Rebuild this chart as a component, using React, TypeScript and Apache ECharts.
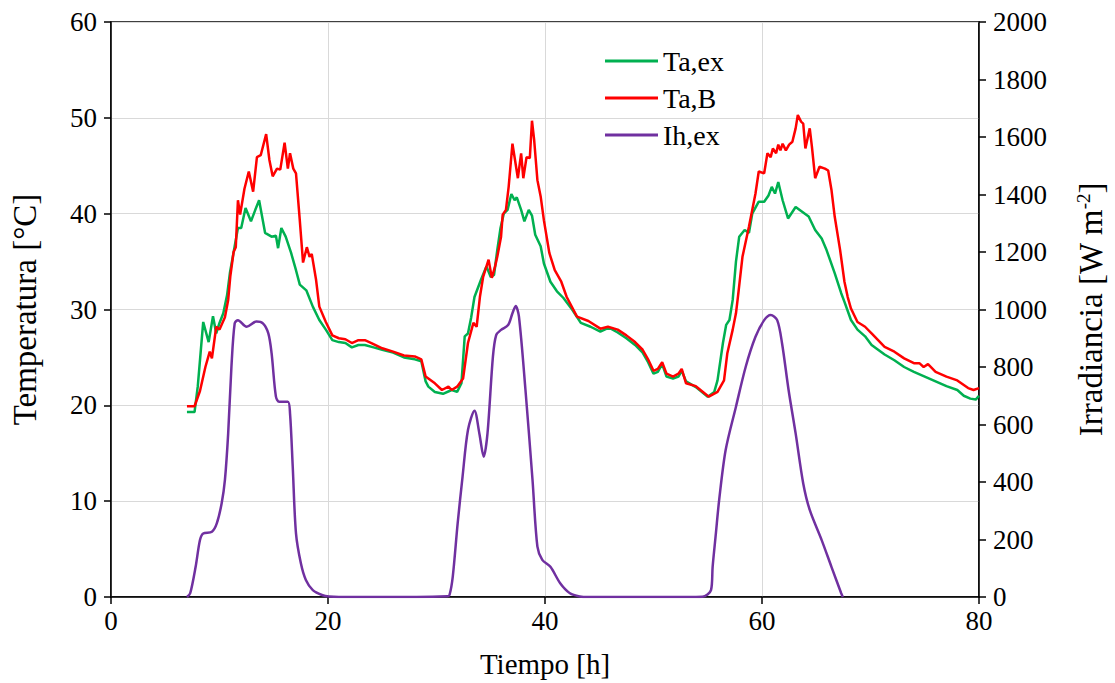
import React, { useEffect, useRef } from "react";
import * as echarts from "echarts";

const xTicks = { min: 0, max: 80, interval: 20 };

const taEx: [number, number][] = [
  [7.0, 19.3], [7.7, 19.3], [8.0, 22.0], [8.5, 28.7], [9.0, 26.6], [9.4, 29.3], [9.7, 27.5], [10.0, 28.6],
  [10.35, 29.6], [10.7, 31.5], [10.97, 33.9], [11.4, 36.6], [11.7, 38.5], [12.0, 38.5], [12.4, 40.6],
  [12.9, 39.2], [13.3, 40.4], [13.65, 41.4], [14.2, 38.0], [14.8, 37.6], [15.2, 37.7], [15.4, 36.4],
  [15.7, 38.5], [16.1, 37.6], [16.6, 35.9], [17.05, 34.1], [17.4, 32.6], [18.0, 32.0], [18.6, 30.3],
  [19.2, 28.9], [19.8, 27.9], [20.4, 26.8], [21.0, 26.6], [21.6, 26.5], [22.2, 26.05], [22.8, 26.3],
  [23.4, 26.3], [24.2, 26.05], [25.0, 25.8], [26.0, 25.5], [27.0, 25.0], [28.0, 24.8], [28.6, 24.6],
  [29.0, 22.5], [29.25, 21.95], [29.85, 21.4], [30.6, 21.2], [31.4, 21.6], [31.9, 21.4], [32.3, 22.3],
  [32.6, 27.2], [32.9, 27.5], [33.2, 29.2], [33.5, 31.3], [34.1, 33.1], [34.6, 34.5], [35.0, 33.4],
  [35.3, 33.6], [35.6, 36.2], [35.9, 38.5], [36.2, 40.0], [36.55, 40.4], [36.9, 42.05], [37.2, 41.4],
  [37.4, 41.7], [37.8, 40.4], [38.1, 39.2], [38.5, 40.4], [38.8, 39.8], [39.1, 37.8], [39.6, 36.6],
  [39.9, 34.8], [40.5, 32.9], [41.1, 31.9], [41.7, 31.2], [42.5, 30.0], [43.3, 28.6], [44.2, 28.2],
  [45.1, 27.7], [45.9, 28.1], [46.7, 27.6], [47.5, 27.0], [48.3, 26.3], [49.0, 25.5], [49.5, 24.5],
  [50.0, 23.3], [50.4, 23.5], [50.8, 24.3], [51.2, 23.0], [51.8, 22.8], [52.3, 23.0], [52.6, 23.6],
  [53.0, 22.5], [53.9, 21.9], [55.0, 20.9], [55.6, 21.4], [55.9, 22.6], [56.4, 26.5], [56.7, 28.4],
  [57.0, 28.9], [57.3, 31.0], [57.6, 35.0], [57.9, 37.6], [58.4, 38.3], [58.8, 38.0], [59.1, 40.0],
  [59.7, 41.25], [60.2, 41.25], [60.6, 41.9], [60.9, 42.8], [61.2, 42.1], [61.5, 43.3], [61.9, 41.4],
  [62.4, 39.5], [63.1, 40.7], [63.7, 40.2], [64.3, 39.7], [64.9, 38.3], [65.5, 37.4], [65.95, 36.2],
  [66.7, 33.8], [67.3, 31.7], [67.6, 30.8], [68.2, 28.9], [68.8, 27.9], [69.5, 27.2], [70.1, 26.3],
  [70.7, 25.8], [71.3, 25.3], [72.2, 24.7], [73.1, 24.0], [74.0, 23.5], [75.0, 23.0], [76.0, 22.5],
  [77.0, 22.0], [78.0, 21.6], [78.6, 21.0], [79.2, 20.7], [79.7, 20.6], [80.0, 21.0],
];

const taB: [number, number][] = [
  [7.0, 19.9], [7.7, 19.9], [8.2, 21.5], [8.7, 24.0], [9.1, 25.6], [9.3, 24.9], [9.7, 28.2], [10.0, 27.9],
  [10.5, 29.2], [10.8, 31.0], [11.0, 33.5], [11.3, 36.0], [11.5, 36.5], [11.7, 41.4], [11.9, 39.9],
  [12.3, 42.6], [12.7, 44.4], [13.1, 42.3], [13.45, 45.9], [13.8, 46.1], [14.3, 48.3], [14.6, 45.6],
  [14.9, 43.9], [15.3, 44.7], [15.6, 44.6], [16.0, 47.4], [16.3, 44.7], [16.5, 46.3], [16.8, 44.7],
  [17.05, 44.2], [17.4, 39.3], [17.7, 34.9], [18.05, 36.5], [18.3, 35.5], [18.5, 35.8], [18.9, 33.1],
  [19.2, 30.3], [19.8, 28.7], [20.4, 27.3], [21.0, 27.0], [21.6, 26.9], [22.2, 26.5], [22.8, 26.8],
  [23.4, 26.8], [24.0, 26.5], [25.0, 25.95], [26.0, 25.6], [27.0, 25.2], [28.0, 25.1], [28.6, 24.8],
  [29.0, 23.0], [29.25, 22.8], [29.85, 22.3], [30.5, 21.6], [31.1, 21.95], [31.4, 21.6], [31.9, 21.95],
  [32.45, 22.8], [32.9, 26.5], [33.4, 28.6], [33.7, 28.2], [34.0, 31.3], [34.3, 33.4], [34.8, 35.2],
  [35.1, 33.3], [35.4, 34.5], [35.6, 35.5], [35.95, 37.6], [36.1, 39.9], [36.4, 40.4], [36.65, 42.8],
  [37.0, 47.3], [37.5, 43.7], [37.8, 46.3], [38.0, 43.7], [38.3, 45.9], [38.6, 45.8], [38.8, 49.7],
  [39.0, 47.7], [39.3, 43.5], [39.6, 41.8], [39.9, 39.3], [40.4, 35.9], [40.9, 34.1], [41.5, 32.9],
  [42.0, 31.3], [42.95, 29.25], [44.0, 28.8], [45.1, 28.0], [45.8, 28.2], [46.7, 27.9], [47.5, 27.3],
  [48.3, 26.6], [49.0, 25.8], [49.5, 24.8], [50.0, 23.6], [50.4, 23.8], [50.8, 24.5], [51.2, 23.3],
  [51.8, 23.0], [52.3, 23.3], [52.6, 23.8], [53.0, 22.3], [53.9, 22.0], [55.1, 20.9], [55.9, 21.4],
  [56.5, 22.6], [56.8, 25.4], [57.3, 27.9], [57.6, 29.6], [57.8, 31.5], [58.2, 35.5], [58.8, 38.65],
  [59.4, 42.1], [59.7, 44.4], [60.2, 44.2], [60.5, 46.3], [60.8, 45.9], [61.0, 46.8], [61.3, 46.3],
  [61.5, 47.2], [61.7, 46.6], [61.9, 47.3], [62.2, 46.6], [62.5, 47.2], [62.8, 47.5], [63.1, 48.9],
  [63.3, 50.3], [63.6, 49.6], [63.8, 49.4], [64.0, 46.8], [64.4, 48.9], [64.6, 47.0], [64.9, 43.7],
  [65.3, 44.9], [65.8, 44.7], [66.1, 44.5], [66.4, 42.5], [66.7, 39.7], [67.2, 36.2], [67.6, 32.9],
  [67.9, 31.3], [68.2, 30.1], [68.8, 28.7], [69.5, 28.2], [70.1, 27.5], [70.7, 26.8], [71.3, 26.1],
  [72.2, 25.6], [73.1, 24.9], [74.0, 24.4], [74.5, 24.4], [74.9, 24.0], [75.3, 24.3], [76.0, 23.5],
  [77.0, 23.0], [78.0, 22.6], [79.0, 21.8], [79.5, 21.6], [80.0, 21.8],
];

const ihEx: [number, number][] = [
  [7.0, 0], [7.3, 13], [7.8, 105], [8.2, 198], [8.5, 221], [9.3, 227], [9.75, 256], [10.2, 326],
  [10.5, 407], [10.8, 569], [11.1, 801], [11.4, 952], [11.7, 963], [12.5, 940], [13.4, 958], [14.0, 952],
  [14.5, 917], [14.8, 848], [15.2, 697], [15.5, 679], [16.3, 679], [16.5, 639], [16.75, 453], [17.05, 221],
  [17.5, 117], [17.96, 59], [18.6, 24], [19.5, 6], [20.1, 2], [22.0, 0], [25.0, 0], [31.0, 3], [31.2, 7],
  [31.5, 71], [31.95, 256], [32.4, 418], [32.9, 581], [33.5, 648], [33.95, 569], [34.35, 488], [34.7, 569],
  [35.2, 836], [35.5, 911], [35.95, 929], [36.6, 946], [37.0, 987], [37.3, 1012], [37.6, 975], [38.2, 720],
  [38.85, 407], [39.3, 175], [39.75, 129], [40.5, 105], [41.4, 48], [42.3, 13], [43.2, 2], [44.0, 0],
  [53.0, 0], [54.5, 1], [55.3, 24], [55.45, 105], [55.75, 221], [56.05, 337], [56.65, 511], [57.6, 662],
  [58.5, 801], [59.4, 905], [60.2, 963], [60.8, 981], [61.4, 963], [61.85, 882], [62.45, 720], [63.1, 569],
  [63.8, 395], [64.4, 303], [65.5, 198], [66.4, 105], [67.3, 13], [67.45, 0],
];

const seriesNames = ["Ta,ex", "Ta,B", "Ih,ex"];
const seriesColors = ["#00B050", "#FF0000", "#7030A0"];

const FONT = "'Liberation Serif', 'DejaVu Serif', 'Times New Roman', serif";

export default function App() {
  const ref = useRef<HTMLDivElement>(null);
  useEffect(() => {
    if (!ref.current) return;
    document.body.style.margin = "0";
    const chart = echarts.init(ref.current, null, { renderer: "svg" });
    const axisLabel = { color: "#000", fontFamily: FONT, fontSize: 27, formatter: (v: number) => String(v) };
    const nameStyle = { color: "#000", fontFamily: FONT, fontSize: 29 };
    const rotNameStyle = { color: "#000", fontFamily: FONT, fontSize: 33 };
    chart.setOption({
      animation: false,
      backgroundColor: "#fff",
      textStyle: { fontFamily: FONT },
      grid: { left: 108, right: 124, top: 22, bottom: 86, show: true, borderColor: "#000", borderWidth: 1.5 },
      legend: {
        orient: "vertical",
        left: 600,
        top: 42,
        itemWidth: 53,
        itemHeight: 3,
        itemGap: 9,
        textStyle: { color: "#000", fontFamily: FONT, fontSize: 28 },
        data: seriesNames.map((n, i) => ({ name: n, icon: "rect", itemStyle: { color: seriesColors[i] } })),
      },
      xAxis: {
        type: "value",
        min: xTicks.min,
        max: xTicks.max,
        interval: xTicks.interval,
        name: "Tiempo [h]",
        nameLocation: "middle",
        nameGap: 52,
        nameTextStyle: nameStyle,
        axisLine: { show: true, lineStyle: { color: "#000", width: 1.5 } },
        axisTick: { show: true, inside: false, length: 7, lineStyle: { color: "#000", width: 1.5 } },
        axisLabel: { ...axisLabel, margin: 10 },
        splitLine: { show: true, lineStyle: { color: "#d9d9d9", width: 1 } },
      },
      yAxis: [
        {
          type: "value",
          min: 0,
          max: 60,
          interval: 10,
          position: "left",
          name: "Temperatura [°C]",
          nameLocation: "middle",
          nameGap: 70,
          nameTextStyle: rotNameStyle,
          axisLine: { show: true, lineStyle: { color: "#000", width: 1.5 } },
          axisTick: { show: true, length: 7, lineStyle: { color: "#000", width: 1.5 } },
          axisLabel: { ...axisLabel, margin: 14 },
          splitLine: { show: true, lineStyle: { color: "#d9d9d9", width: 1 } },
        },
        {
          type: "value",
          min: 0,
          max: 2000,
          interval: 200,
          position: "right",
          name: "Irradiancia [W m{sup|-2}]",
          nameLocation: "middle",
          nameGap: 95,
          nameRotate: 90,
          nameTextStyle: {
            ...rotNameStyle,
            rich: { sup: { fontFamily: FONT, fontSize: 19, color: "#000", verticalAlign: "top", padding: [0, 0, 12, 0] } },
          },
          axisLine: { show: true, lineStyle: { color: "#000", width: 1.5 } },
          axisTick: { show: true, length: 7, lineStyle: { color: "#000", width: 1.5 } },
          axisLabel: { ...axisLabel, margin: 14 },
          splitLine: { show: false },
        },
      ],
      series: [
        {
          name: seriesNames[0],
          type: "line",
          yAxisIndex: 0,
          data: taEx,
          symbol: "none",
          lineStyle: { color: seriesColors[0], width: 2.5 },
          itemStyle: { color: seriesColors[0] },
          z: 2,
        },
        {
          name: seriesNames[1],
          type: "line",
          yAxisIndex: 0,
          data: taB,
          symbol: "none",
          lineStyle: { color: seriesColors[1], width: 2.5 },
          itemStyle: { color: seriesColors[1] },
          z: 3,
        },
        {
          name: seriesNames[2],
          type: "line",
          yAxisIndex: 1,
          data: ihEx,
          symbol: "none",
          smooth: 0.3,
          lineStyle: { color: seriesColors[2], width: 2.5 },
          itemStyle: { color: seriesColors[2] },
          z: 4,
        },
      ],
    });
    return () => chart.dispose();
  }, []);
  return <div ref={ref} style={{ width: 1115, height: 683, position: "absolute", left: 0, top: 0 }} />;
}
